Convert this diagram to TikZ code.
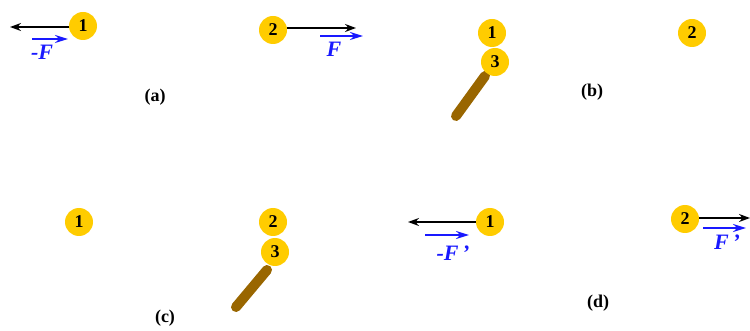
\documentclass[tikz,border=0pt]{standalone}
\usepackage{fontspec}
\setmainfont{Liberation Serif}
\usetikzlibrary{arrows.meta}
\definecolor{ballc}{RGB}{255,204,0}
\definecolor{rodc}{RGB}{153,102,0}
\definecolor{vecc}{RGB}{25,25,255}
\begin{document}
\begin{tikzpicture}[x=1pt,y=-1pt,
  ball/.style={circle,fill=ballc,minimum size=28pt,inner sep=0pt,font=\fontsize{18}{18}\selectfont\bfseries},
  force/.style={black,line width=1.4pt,-{Stealth[length=11pt,width=8pt]}},
  vec/.style={vecc,line width=2pt,-{Stealth[length=13pt,width=8pt]}},
  veclabel/.style={text=vecc,font=\fontsize{22}{22}\selectfont\bfseries\itshape,inner sep=0pt},
  panel/.style={font=\fontsize{18}{18}\selectfont\bfseries,inner sep=0pt},
  rod/.style={rodc,line width=10pt,line cap=round}]
\useasboundingbox (0,0) rectangle (750,331);
% panel (a)
\node[ball] (a1) at (83,26) {1};
\node[ball] (a2) at (273,30) {2};
\coordinate (a1e) at (10,27);
\coordinate (a2e) at (356,28);
\draw[force] (a1.west |- a1e) -- (a1e);
\draw[force] (a2.east |- a2e) -- (a2e);
\coordinate (va1s) at (32,39); \coordinate (va1e) at (68,39);
\draw[vec] (va1s) -- (va1e);
\node[veclabel] (fa1) at (42,52) {-F};
\coordinate (va2s) at (320,36); \coordinate (va2e) at (363,36);
\draw[vec] (va2s) -- (va2e);
\node[veclabel] (fa2) at (334,49) {F};
\node[panel] (la) at (155,97) {(a)};
% panel (b)
\coordinate (rb1) at (485,76); \coordinate (rb2) at (456,116);
\draw[rod] (rb1) -- (rb2);
\node[ball] (b1) at (492,33) {1};
\node[ball] (b3) at (495,62) {3};
\node[ball] (b2) at (692,33) {2};
\node[panel] (lb) at (592,92) {(b)};
% panel (c)
\coordinate (rc1) at (267,270); \coordinate (rc2) at (236,307);
\draw[rod] (rc1) -- (rc2);
\node[ball] (c1) at (79,222) {1};
\node[ball] (c2) at (273,222) {2};
\node[ball] (c3) at (275,252) {3};
\node[panel] (lc) at (165,318) {(c)};
% panel (d)
\node[ball] (d1) at (490,222) {1};
\node[ball] (d2) at (685,219) {2};
\coordinate (d1e) at (408,222);
\coordinate (d2e) at (750,218);
\draw[force] (d1.west |- d1e) -- (d1e);
\draw[force] (d2.east |- d2e) -- (d2e);
\coordinate (vd1s) at (425,235); \coordinate (vd1e) at (469,235);
\draw[vec] (vd1s) -- (vd1e);
\node[veclabel] (fd1) at (453,253) {-F\,’};
\coordinate (vd2s) at (703,228); \coordinate (vd2e) at (746,228);
\draw[vec] (vd2s) -- (vd2e);
\node[veclabel] (fd2) at (727,242) {F\,’};
\node[panel] (ld) at (598,303) {(d)};
\end{tikzpicture}
\end{document}
